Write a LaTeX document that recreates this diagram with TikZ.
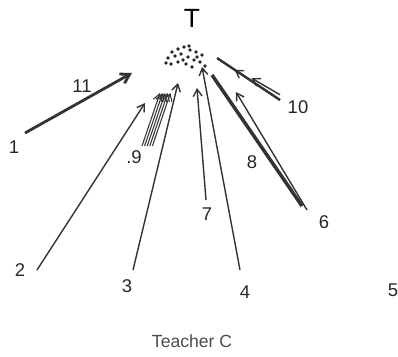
\documentclass[tikz,border=0pt]{standalone}
\usepackage{fontspec}
\setsansfont{Liberation Sans}
\usetikzlibrary{calc,arrows.meta}
\begin{document}
\begin{tikzpicture}[x=0.02cm,y=-0.02cm,
  pupil/.style={font=\sffamily\fontsize{10.5}{12}\selectfont,text=black!85},
  link/.style={-{Straight Barb[length=4pt,width=5pt]},line width=0.8pt,draw=black!80},
  heavy/.style={-{Straight Barb[length=5pt,width=6pt]},line width=1.6pt,draw=black!80}]
\useasboundingbox (0,0) rectangle (398,356);
% teacher and pupils
\node[font=\sffamily\fontsize{15}{17}\selectfont] (t) at (192,18) {T};
\node[pupil] (p1) at (14,147) {1};
\node[pupil] (p2) at (20,270) {2};
\node[pupil] (p3) at (127,286) {3};
\node[pupil] (p4) at (245,292) {4};
\node[pupil] (p5) at (393,290) {5};
\node[pupil] (p6) at (324,222) {6};
\node[pupil] (p7) at (207,214) {7};
\node[pupil] (p8) at (252,162) {8};
\node[pupil] (p9) at (134,157) {.9};
\node[pupil] (p10) at (298,107) {10};
\node[pupil] (p11) at (82,86) {11};
\node[font=\sffamily\fontsize{10}{12}\selectfont,text=black!70] (cap) at (192,341) {Teacher C};
% cluster round the teacher
\foreach \x/\y in {172/52,178/49,184/47,190/50,196/52,202/55,168/58,175/56,181/54,188/57,194/60,200/62,205/66,186/64,192/67,178/62,171/64,183/60,197/57,189/46,166/63,203/70}
  \fill[black!85] (\x,\y) circle (1.8);
% ends of the arrows
\coordinate (a1) at (25,133);  \coordinate (h1) at (132,73);
\coordinate (a2) at (37,270);  \coordinate (h2) at (145,103);
\coordinate (a3) at (133,270); \coordinate (h3) at (178,83);
\coordinate (a4) at (240,270); \coordinate (h4) at (202,67);
\coordinate (a7) at (206,200); \coordinate (h7) at (197,88);
\coordinate (a6) at (302,206); \coordinate (h6) at (212,75);
\coordinate (b6) at (307,210); \coordinate (k6) at (236,92);
\coordinate (a10) at (280,100); \coordinate (h10) at (217,58);
% arrows
\draw[heavy] (a1) -- (h1);
\draw[link] (a2) -- (h2);
\draw[link] (a3) -- (h3);
\draw[link] (a4) -- (h4);
\draw[link] (a7) -- (h7);
\draw[line width=2pt,draw=black!80] (a6) -- (h6);
\draw[link] (b6) -- (k6);
\draw[line width=1.4pt,draw=black!80] (a10) -- (h10);
\draw[link] (a10) -- ($(a10)!0.72!(h10)$);
\draw[link] ([yshift=3]a10) -- ($([yshift=3]a10)!0.45!(h10)$);
% bundle from 9
\foreach \i in {0,...,4}
  \draw[link,line width=0.6pt] (142+2.6*\i,146) -- (160+2.6*\i,93);
\end{tikzpicture}
\end{document}
